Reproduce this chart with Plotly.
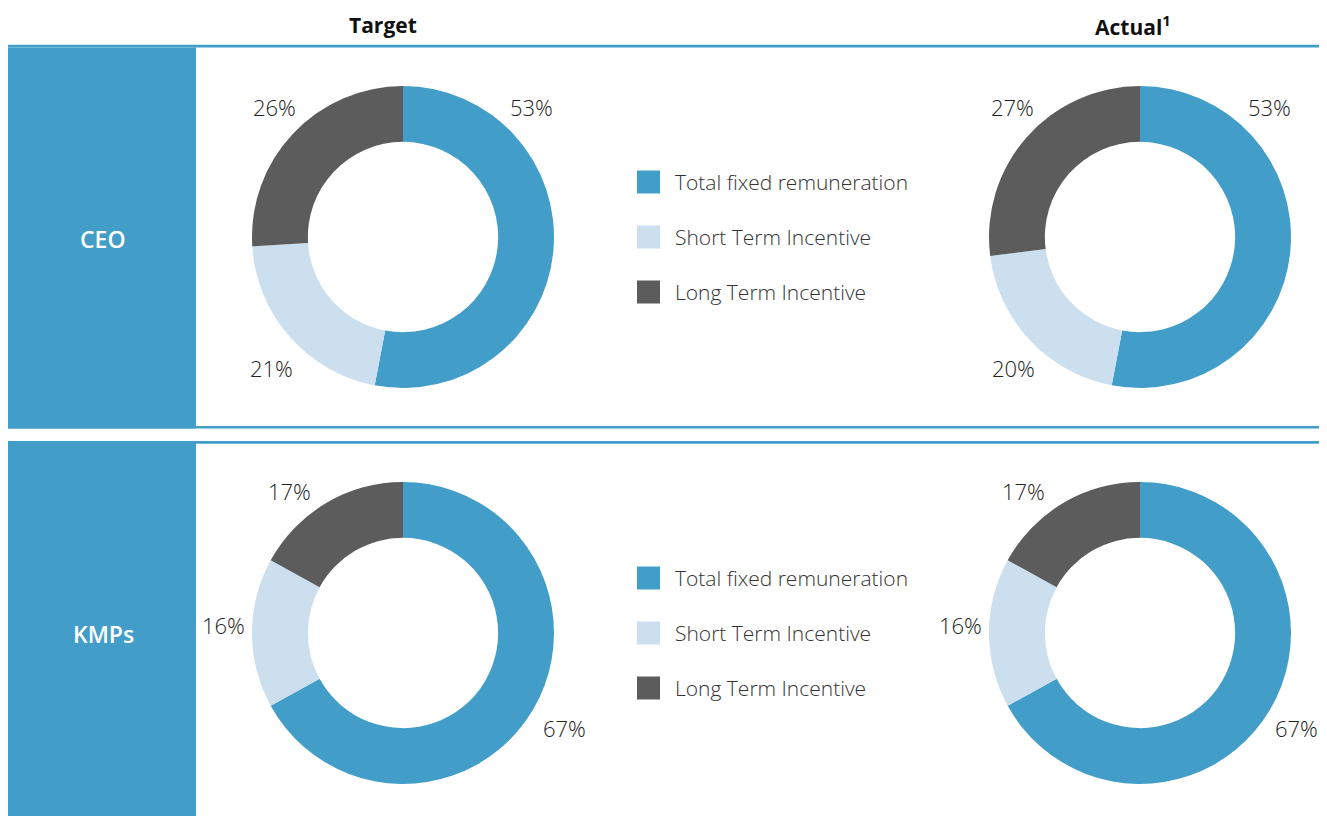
import plotly.graph_objects as go

# ---------------- data ----------------
categories = ["Total fixed remuneration", "Short Term Incentive", "Long Term Incentive"]
ceo_target = [53, 21, 26]
ceo_actual = [53, 20, 27]
kmp_target = [67, 16, 17]
kmp_actual = [67, 16, 17]
row_labels = ["CEO", "KMPs"]
col_labels = ["Target", "Actual<sup>1</sup>"]

colors = ["#429EC9", "#CCDFEE", "#5C5C5C"]
BLUE = "#429EC9"

# the page body adds an 8px margin, so the figure is offset by it
OFF = 8
W, H = 1327 - 2 * OFF, 816 - OFF


def fx(x):
    return (x - OFF) / W


def fy(y):
    return 1 - (y - OFF) / H


# donut panels: (values, centre px, radius px, label offsets px)
panels = [
    (ceo_target, (403, 237), 151, [(128, -130), (-132, 131), (-129, -130)]),
    (ceo_actual, (1140, 237), 151, [(129, -130), (-127, 131), (-128, -130)]),
    (kmp_target, (403, 633), 151, [(161, 95), (-180, -8), (-114, -142)]),
    (kmp_actual, (1140, 633), 151, [(156, 95), (-180, -8), (-116, -142)]),
]

fig = go.Figure()
annotations = []
shapes = []

FONT = "'Open Sans', sans-serif"

for vals, (cx, cy), r, offs in panels:
    fig.add_trace(go.Pie(
        labels=categories,
        values=vals,
        hole=0.63,
        sort=False,
        direction="clockwise",
        rotation=0,
        textinfo="none",
        marker=dict(colors=colors, line=dict(width=0)),
        domain=dict(x=[fx(cx - r), fx(cx + r)], y=[fy(cy + r), fy(cy - r)]),
        showlegend=False,
        hoverinfo="label+percent",
    ))
    for v, (dx, dy) in zip(vals, offs):
        annotations.append(dict(
            x=fx(cx + dx), y=fy(cy + dy), xref="paper", yref="paper",
            text=f"{v}%", showarrow=False, xanchor="center", yanchor="middle",
            font=dict(family=FONT, size=22, color="#222222", weight=300),
        ))

# header texts
for txt, x in zip(col_labels, [383, 1133]):
    annotations.append(dict(
        x=fx(x), y=fy(25), xref="paper", yref="paper", text=txt, showarrow=False,
        xanchor="center", yanchor="middle",
        font=dict(family=FONT, size=21, color="#111111", weight=700),
    ))

# row boxes + lines
row_boxes = [(47.5, 428.5), (441.5, 820)]
for (y0, y1), lab, ty in zip(row_boxes, row_labels, [239, 634]):
    shapes.append(dict(type="rect", xref="paper", yref="paper",
                       x0=fx(8), x1=fx(196), y0=fy(y1), y1=fy(y0),
                       fillcolor=BLUE, line=dict(width=0), layer="below"))
    annotations.append(dict(
        x=fx(103), y=fy(ty), xref="paper", yref="paper",
        text=lab, showarrow=False, xanchor="center", yanchor="middle",
        font=dict(family=FONT, size=23, color="white", weight=600),
    ))

for y0, y1 in [(44.8, 47.6), (426.0, 428.6), (441.0, 443.8)]:
    shapes.append(dict(type="rect", xref="paper", yref="paper",
                       x0=fx(8), x1=1, y0=fy(y1), y1=fy(y0),
                       fillcolor=BLUE, line=dict(width=0), layer="below"))

# legends (one per row)
for cy in [237, 633]:
    for i, (cat, col) in enumerate(zip(categories, colors)):
        yy = cy - 55 + 55 * i
        shapes.append(dict(type="rect", xref="paper", yref="paper",
                           x0=fx(637), x1=fx(660), y0=fy(yy + 11.5), y1=fy(yy - 11.5),
                           fillcolor=col, line=dict(width=0)))
        annotations.append(dict(
            x=fx(673), y=fy(yy), xref="paper", yref="paper", text=cat, showarrow=False,
            xanchor="left", yanchor="middle",
            font=dict(family=FONT, size=21, color="#333333", weight=300),
        ))

fig.update_layout(
    width=W, height=H,
    margin=dict(l=0, r=0, t=0, b=0),
    paper_bgcolor="white", plot_bgcolor="white",
    shapes=shapes, annotations=annotations,
)

fig.write_html("out.html")
